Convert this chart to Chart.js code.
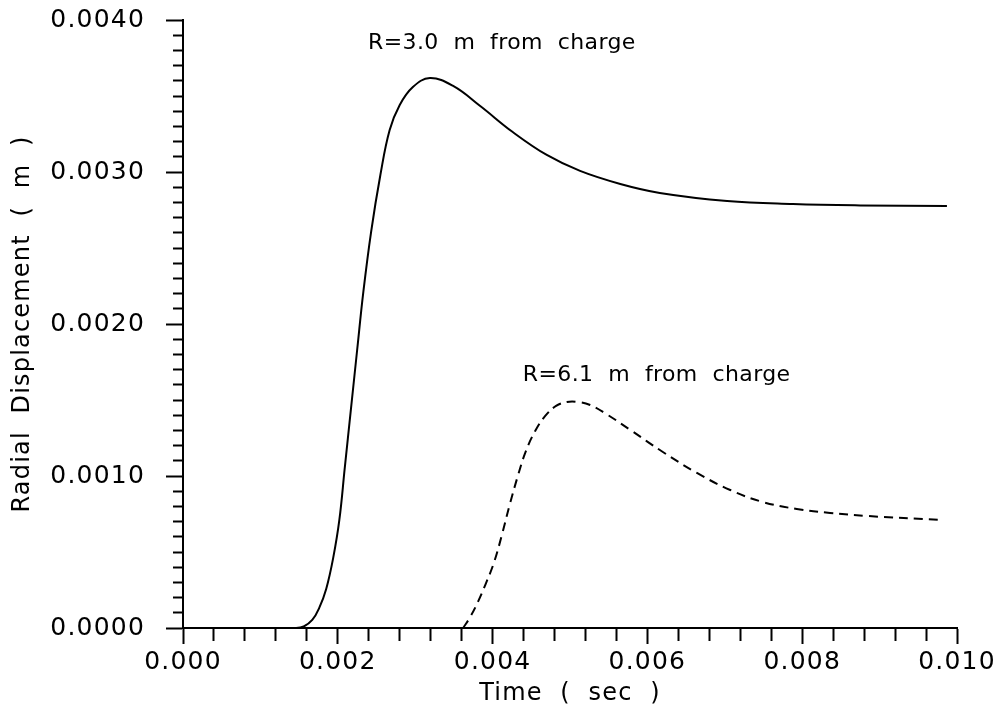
<!DOCTYPE html>
<html>
<head>
<meta charset="utf-8">
<title>Radial Displacement vs Time</title>
<script src="https://cdn.jsdelivr.net/npm/chart.js@4/dist/chart.umd.min.js"></script>
<style>
  html, body { margin: 0; padding: 0; background: #fff; }
  #wrap { width: 995px; height: 712px; position: relative; }
</style>
</head>
<body>
<div id="wrap"><canvas id="disp-chart"></canvas></div>
<script>
/* radial displacement at two distances from the charge */

// R = 3.0 m (solid)
const nearTime = [0, 0.00146, 0.00156, 0.00167, 0.00176, 0.00185, 0.00194, 0.00202,
                  0.00209, 0.00217, 0.00225, 0.00233, 0.00243, 0.00255, 0.00267, 0.0028,
                  0.00297, 0.00319, 0.00349, 0.00384, 0.00426, 0.0047, 0.00513, 0.00565,
                  0.00616, 0.00703, 0.00788, 0.00875, 0.00987];
const nearDisp = [0, 0, 0.00001, 0.000053, 0.000132, 0.000257, 0.00046, 0.000711,
                  0.001053, 0.001441, 0.001829, 0.002211, 0.002605, 0.00298, 0.003276, 0.003441,
                  0.003559, 0.003618, 0.003566, 0.003434, 0.003263, 0.003112, 0.003007, 0.002921,
                  0.002862, 0.002809, 0.002789, 0.00278, 0.002776];

// R = 6.1 m (dashed)
const farTime = [0.00362, 0.00371, 0.00381, 0.00391, 0.00402, 0.00412, 0.00422, 0.00433,
                 0.00443, 0.00455, 0.00468, 0.00482, 0.00496, 0.0051, 0.00526, 0.00545,
                 0.00578, 0.0062, 0.00664, 0.00707, 0.00749, 0.00793, 0.00836, 0.00884,
                 0.00978];
const farDisp = [0, 0.000072, 0.000171, 0.000289, 0.000434, 0.000612, 0.000809, 0.001007,
                 0.001164, 0.001296, 0.001395, 0.001461, 0.001487, 0.001487, 0.001467, 0.001414,
                 0.001303, 0.001158, 0.00102, 0.000908, 0.000829, 0.000783, 0.000757, 0.000737,
                 0.000711];

// curve labels, placed in data units
const noteText = ['R=3.0  m  from  charge', 'R=6.1  m  from  charge'];
const noteX    = [0.00239, 0.00439];
const noteY    = [0.00385, 0.00166];

const FONT = 'DejaVu Sans';

const isMajor = (v, step) => Math.abs(v / step - Math.round(v / step)) < 1e-6;

const spacing = {
  id: 'spacing',
  beforeDraw(chart) { chart.ctx.letterSpacing = '1.2px'; },
};

const notes = {
  id: 'notes',
  afterDatasetsDraw(chart) {
    const { ctx, scales: { x, y } } = chart;
    ctx.save();
    ctx.letterSpacing = '0.4px';
    ctx.font = `22px "${FONT}"`;
    ctx.fillStyle = '#000';
    ctx.textAlign = 'left';
    ctx.textBaseline = 'middle';
    noteText.forEach((t, i) => {
      ctx.fillText(t, x.getPixelForValue(noteX[i]), y.getPixelForValue(noteY[i]));
    });
    ctx.restore();
  },
};

const pts = (xs, ys) => xs.map((v, i) => ({ x: v, y: ys[i] }));

new Chart(document.getElementById('disp-chart'), {
  type: 'line',
  data: {
    datasets: [
      { label: 'R=3.0 m', data: pts(nearTime, nearDisp), borderColor: '#000', borderWidth: 2,
        pointRadius: 0, tension: 0.4 },
      { label: 'R=6.1 m', data: pts(farTime, farDisp), borderColor: '#000', borderWidth: 2,
        borderDash: [9, 6], pointRadius: 0, tension: 0.4 },
    ],
  },
  plugins: [spacing, notes],
  options: {
    responsive: true,
    maintainAspectRatio: false,
    animation: false,
    layout: { padding: { top: 20, right: 38, left: 0, bottom: 0 } },
    plugins: { legend: { display: false }, tooltip: { enabled: false } },
    scales: {
      x: {
        type: 'linear', min: 0, max: 0.01,
        afterFit: s => { s.height = 84; s.paddingLeft = 0; s.paddingRight = 0; },
        border: { display: true, color: '#000', width: 2 },
        grid: {
          drawOnChartArea: false, drawTicks: true, tickLength: 16, tickWidth: 2, tickColor: '#000',
          tickBorderDash: c => (c.tick && isMajor(c.tick.value, 0.002)) ? [] : [12, 100],
        },
        ticks: {
          stepSize: 0.0004, autoSkip: false, maxRotation: 0, padding: 3, color: '#000',
          font: { family: FONT, size: 25 },
          callback: v => isMajor(v, 0.002) ? v.toFixed(3) : '',
        },
        title: {
          display: true, text: 'Time  (  sec  )', color: '#000',
          font: { family: FONT, size: 24 }, padding: { top: 0, bottom: 4 },
        },
      },
      y: {
        type: 'linear', min: 0, max: 0.004,
        afterFit: s => { s.width = 183; s.paddingTop = 0; s.paddingBottom = 0; },
        border: { display: true, color: '#000', width: 2 },
        grid: {
          drawOnChartArea: false, drawTicks: true, tickLength: 17, tickWidth: 2, tickColor: '#000',
          tickBorderDash: c => (c.tick && isMajor(c.tick.value, 0.001)) ? [] : [10, 7],
          tickBorderDashOffset: c => (c.tick && isMajor(c.tick.value, 0.001)) ? 0 : 10,
        },
        ticks: {
          stepSize: 0.0001, autoSkip: false, padding: 21, color: '#000',
          font: { family: FONT, size: 25 },
          callback: v => isMajor(v, 0.001) ? v.toFixed(4) : '',
        },
        title: {
          display: true, text: 'Radial  Displacement  (  m  )', color: '#000',
          font: { family: FONT, size: 24 }, padding: { top: 8, bottom: 0 },
        },
      },
    },
  },
});
</script>
</body>
</html>
